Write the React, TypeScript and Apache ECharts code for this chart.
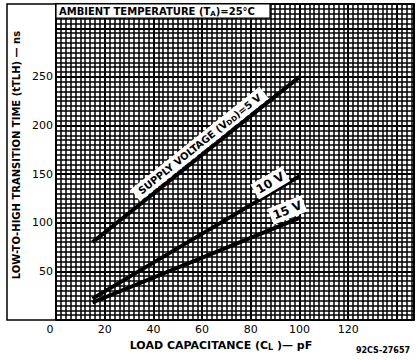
import React, { useEffect, useRef } from 'react';
import * as echarts from 'echarts';

// Load capacitance (pF) at the two ends of each straight characteristic
const capacitance = [15, 100];
// Low-to-high transition time (ns) for each supply voltage
const vdd5 = [80, 250];
const vdd10 = [22, 148];
const vdd15 = [18, 105];
// Tick labels shown on the axes
const xTickLabels = [0, 20, 40, 60, 80, 100, 120];
const yTickLabels = [50, 100, 150, 200, 250];
// Curve captions
const captionTexts = ['SUPPLY VOLTAGE (V{s|DD})=5 V', '10 V', '15 V'];

const FONT = 'DejaVu Sans';

function measure(text: string, font: string) {
  const c = document.createElement('canvas').getContext('2d')!;
  c.font = font;
  return c.measureText(text.replace(/\{s\|([^}]*)\}/g, '$1')).width;
}

export default function App() {
  const ref = useRef<HTMLDivElement>(null);

  useEffect(() => {
    document.body.style.margin = '0';
    const chart = echarts.init(ref.current!, null, { renderer: 'svg' });

    const pairs = (vals: number[]) => capacitance.map((c, i) => [c, vals[i]]);

    const lineSeries = (name: string, vals: number[]) => ({
      type: 'line',
      name,
      data: pairs(vals),
      symbol: 'none',
      silent: true,
      z: 5,
      lineStyle: { color: '#000', width: 4, cap: 'butt' },
    });

    // caption anchors (data coords), rotation (deg) and font size
    const captionSpec = [
      { at: [59, 181], rot: 38.6, size: 10 },
      { at: [88, 141], rot: 30.5, size: 12 },
      { at: [95, 113], rot: 22.2, size: 12 },
    ];

    const xMin = 0, xMax = 147, yMin = 0, yMax = 325;

    chart.setOption({
      animation: false,
      backgroundColor: '#fff',
      grid: { left: 56, right: 4, top: 4, bottom: 40, show: true, borderColor: '#000', borderWidth: 1.5 },
      xAxis: [
        {
          type: 'value',
          min: xMin,
          max: xMax,
          interval: 20,
          position: 'bottom',
          axisLine: { show: false },
          axisTick: { show: false },
          splitLine: { show: true, lineStyle: { color: '#000', width: 2 } },
          axisLabel: {
            margin: 4,
            color: '#000',
            fontFamily: FONT,
            fontSize: 11,
            formatter: (v: number) =>
              xTickLabels.includes(v) ? (v === 0 ? '{z|0}' : String(v)) : '',
            rich: { z: { fontFamily: FONT, fontSize: 11, color: '#000', padding: [0, 12, 0, 0] } },
          },
          name: 'LOAD CAPACITANCE (C{s|L} )— pF',
          nameLocation: 'middle',
          nameGap: 15,
          nameTextStyle: {
            color: '#000',
            fontFamily: FONT,
            fontWeight: 'bold',
            fontSize: 11,
            padding: [0, 28, 0, 0],
            rich: { s: { fontFamily: FONT, fontWeight: 'bold', fontSize: 8, color: '#000', padding: [5, 0, 0, 0] } },
          },
        },
        {
          type: 'value',
          min: xMin,
          max: xMax,
          interval: 2,
          position: 'top',
          axisLine: { show: false },
          axisTick: { show: false },
          axisLabel: { show: false },
          splitLine: { show: true, lineStyle: { color: '#000', width: 1.5 } },
        },
      ],
      yAxis: [
        {
          type: 'value',
          min: yMin,
          max: yMax,
          interval: 50,
          axisLine: { show: false },
          axisTick: { show: false },
          splitLine: { show: true, lineStyle: { color: '#000', width: 2 } },
          axisLabel: {
            margin: 3,
            color: '#000',
            fontFamily: FONT,
            fontSize: 11,
            formatter: (v: number) => (yTickLabels.includes(v) ? String(v) : ''),
          },
        },
        {
          type: 'value',
          min: yMin,
          max: yMax,
          interval: 5,
          position: 'right',
          axisLine: { show: false },
          axisTick: { show: false },
          axisLabel: { show: false },
          splitLine: { show: true, lineStyle: { color: '#000', width: 1.5 } },
        },
      ],
      series: [
        lineSeries('5 V', vdd5),
        lineSeries('10 V', vdd10),
        lineSeries('15 V', vdd15),
        {
          type: 'custom',
          silent: true,
          z: 10,
          data: captionSpec.map((c) => c.at),
          renderItem: (params: any, api: any) => {
            const i = params.dataIndex;
            const spec = captionSpec[i];
            const text = captionTexts[i];
            const font = `bold ${spec.size}px "${FONT}"`;
            const w = measure(text, font) + 6;
            const h = spec.size + 5;
            const p = api.coord([api.value(0), api.value(1)]);
            return {
              type: 'group',
              x: p[0],
              y: p[1],
              rotation: (spec.rot * Math.PI) / 180,
              children: [
                {
                  type: 'rect',
                  shape: { x: -w / 2, y: -h / 2, width: w, height: h },
                  style: { fill: '#fff' },
                },
                {
                  type: 'text',
                  style: {
                    text,
                    x: 0,
                    y: 0,
                    align: 'center',
                    verticalAlign: 'middle',
                    font,
                    fill: '#000',
                    rich: {
                      s: { fontFamily: FONT, fontWeight: 'bold', fontSize: spec.size - 3, fill: '#000', padding: [4, 0, 0, 0] },
                    },
                  },
                },
              ],
            };
          },
        },
      ],
      graphic: [
        {
          type: 'rect',
          z: 100,
          shape: { x: 7, y: 4, width: 407, height: 316 },
          style: { fill: 'none', stroke: '#000', lineWidth: 1.5 },
        },
        {
          type: 'rect',
          z: 100,
          shape: { x: 56, y: 4, width: 214, height: 14 },
          style: { fill: '#fff', stroke: '#000', lineWidth: 1.2 },
        },
        {
          type: 'text',
          z: 101,
          x: 59,
          y: 11.5,
          style: {
            text: 'AMBIENT TEMPERATURE (T{s|A})=25°C',
            fill: '#000',
            font: `bold 10px "${FONT}"`,
            verticalAlign: 'middle',
            rich: { s: { fontFamily: FONT, fontWeight: 'bold', fontSize: 7, fill: '#000', padding: [5, 0, 0, 0] } },
          },
        },
        {
          type: 'text',
          z: 101,
          x: 16,
          y: 155,
          rotation: Math.PI / 2,
          style: {
            text: 'LOW-TO-HIGH TRANSITION TIME (t{s|TLH}) — ns',
            fill: '#000',
            font: `bold 10px "${FONT}"`,
            align: 'center',
            verticalAlign: 'middle',
            rich: { s: { fontFamily: FONT, fontWeight: 'bold', fontSize: 10, fill: '#000' } },
          },
        },
        {
          type: 'text',
          z: 101,
          x: 383,
          y: 350,
          style: {
            text: '92CS-27657',
            fill: '#000',
            font: `bold 8px "${FONT}"`,
            align: 'center',
            verticalAlign: 'middle',
          },
        },
      ],
    });

    return () => chart.dispose();
  }, []);

  return <div ref={ref} style={{ width: 418, height: 360 }} />;
}
